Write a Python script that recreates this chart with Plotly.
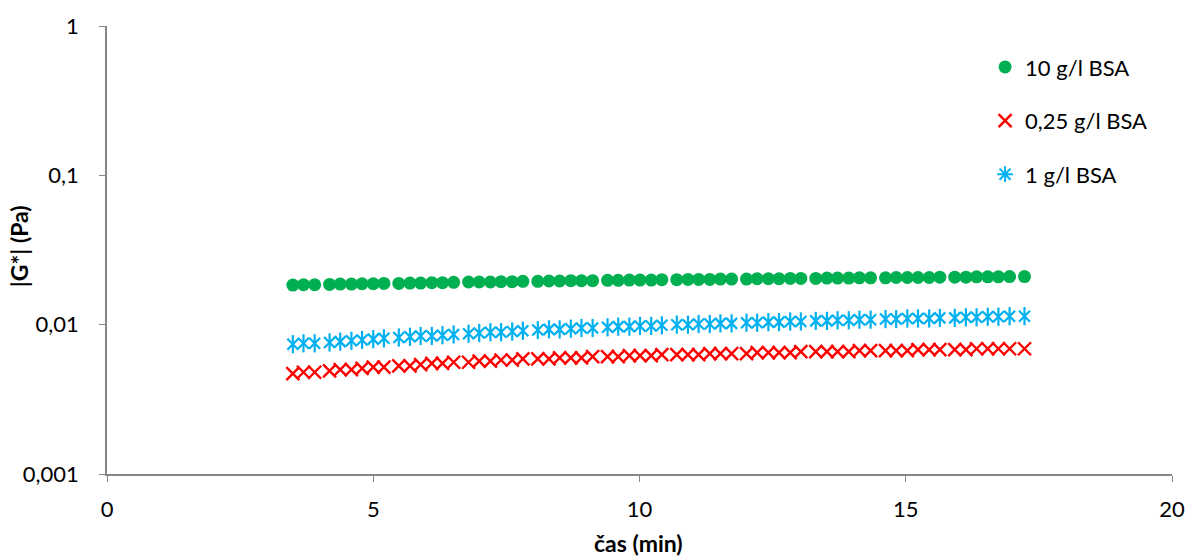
import plotly.graph_objects as go

# time (min)
cas = [3.49, 3.69, 3.90,
       4.18, 4.38, 4.59, 4.79, 5.00, 5.20,
       5.48, 5.69, 5.89, 6.10, 6.30, 6.51,
       6.79, 6.99, 7.20, 7.40, 7.61, 7.81,
       8.09, 8.30, 8.50, 8.71, 8.91, 9.12,
       9.40, 9.60, 9.81, 10.01, 10.22, 10.42,
       10.70, 10.91, 11.11, 11.32, 11.52, 11.73,
       12.01, 12.21, 12.42, 12.62, 12.83, 13.03,
       13.31, 13.52, 13.72, 13.93, 14.13, 14.34,
       14.62, 14.82, 15.03, 15.23, 15.44, 15.64,
       15.92, 16.13, 16.33, 16.54, 16.74, 16.95,
       17.23]

g_10 = [0.0184, 0.0185, 0.0185,
        0.0186, 0.0187, 0.0187, 0.0188, 0.0188, 0.0189,
        0.0189, 0.0190, 0.0190, 0.0191, 0.0191, 0.0192,
        0.0193, 0.0193, 0.0193, 0.0194, 0.0194, 0.0195,
        0.0195, 0.0196, 0.0196, 0.0197, 0.0197, 0.0197,
        0.0198, 0.0198, 0.0199, 0.0199, 0.0199, 0.0200,
        0.0200, 0.0201, 0.0201, 0.0201, 0.0202, 0.0202,
        0.0202, 0.0203, 0.0203, 0.0203, 0.0204, 0.0204,
        0.0204, 0.0205, 0.0205, 0.0205, 0.0206, 0.0206,
        0.0206, 0.0207, 0.0207, 0.0207, 0.0207, 0.0208,
        0.0208, 0.0208, 0.0209, 0.0209, 0.0209, 0.0210,
        0.0210]

g_025 = [0.0047, 0.0048, 0.0048,
         0.0049, 0.0050, 0.0050, 0.0051, 0.0052, 0.0052,
         0.0053, 0.0053, 0.0054, 0.0055, 0.0055, 0.0056,
         0.0056, 0.0057, 0.0057, 0.0058, 0.0058, 0.0059,
         0.0059, 0.0059, 0.0060, 0.0060, 0.0060, 0.0061,
         0.0061, 0.0061, 0.0062, 0.0062, 0.0062, 0.0063,
         0.0063, 0.0063, 0.0063, 0.0064, 0.0064, 0.0064,
         0.0064, 0.0065, 0.0065, 0.0065, 0.0065, 0.0066,
         0.0066, 0.0066, 0.0066, 0.0066, 0.0067, 0.0067,
         0.0067, 0.0067, 0.0067, 0.0068, 0.0068, 0.0068,
         0.0068, 0.0068, 0.0069, 0.0069, 0.0069, 0.0069,
         0.0069]

g_1 = [0.0074, 0.0075, 0.0075,
       0.0076, 0.0077, 0.0078, 0.0079, 0.0080, 0.0081,
       0.0082, 0.0083, 0.0084, 0.0084, 0.0085, 0.0086,
       0.0087, 0.0088, 0.0089, 0.0089, 0.0090, 0.0091,
       0.0092, 0.0093, 0.0093, 0.0094, 0.0095, 0.0095,
       0.0096, 0.0097, 0.0097, 0.0098, 0.0098, 0.0099,
       0.0100, 0.0100, 0.0101, 0.0101, 0.0102, 0.0102,
       0.0103, 0.0103, 0.0104, 0.0104, 0.0105, 0.0105,
       0.0106, 0.0106, 0.0107, 0.0107, 0.0108, 0.0108,
       0.0109, 0.0109, 0.0110, 0.0110, 0.0110, 0.0111,
       0.0111, 0.0112, 0.0112, 0.0113, 0.0113, 0.0114,
       0.0114]

names = ["10 g/l BSA", "0,25 g/l BSA", "1 g/l BSA"]
x_ticks = [0, 5, 10, 15, 20]
y_ticks = [0.001, 0.01, 0.1, 1]
y_ticktext = ["0,001", "0,01", "0,1", "1"]

GREEN = "#00B050"
RED = "#FF0000"
BLUE = "#00B0F0"
AX = "#868686"
FONT = "Lato"

fig = go.Figure()
fig.add_trace(go.Scatter(x=cas, y=g_10, mode="markers", name=names[0],
                         legendgroup="a",
                         marker=dict(symbol="circle", size=13, color=GREEN)))
fig.add_trace(go.Scatter(x=cas, y=g_025, mode="markers", name=names[1],
                         legendgroup="b",
                         marker=dict(symbol="x-thin-open", size=13, color=RED,
                                     line=dict(color=RED, width=2.4))))
# star marker (x + vertical bar)
fig.add_trace(go.Scatter(x=cas, y=g_1, mode="markers", name=names[2],
                         legendgroup="c", showlegend=False,
                         marker=dict(symbol="x-thin-open", size=11, color=BLUE,
                                     line=dict(color=BLUE, width=2.2))))
fig.add_trace(go.Scatter(x=cas, y=g_1, mode="markers", name=names[2],
                         legendgroup="c", showlegend=False,
                         marker=dict(symbol="line-ns-open", size=13, color=BLUE,
                                     line=dict(color=BLUE, width=2.2))))
fig.add_trace(go.Scatter(x=[None], y=[None], mode="markers", name=names[2],
                         legendgroup="c",
                         marker=dict(symbol="asterisk-open", size=13, color=BLUE,
                                     line=dict(color=BLUE, width=2))))

fig.update_layout(
    width=1197, height=559,
    margin=dict(l=107, r=17, t=23, b=85),
    paper_bgcolor="white", plot_bgcolor="white",
    font=dict(family=FONT, color="#000000"),
    showlegend=True,
    legend=dict(x=0.8245, y=0.955, xanchor="left", yanchor="top",
                font=dict(size=22, family=FONT), tracegroupgap=22,
                traceorder="grouped", itemwidth=30,
                bgcolor="rgba(0,0,0,0)"),
    xaxis=dict(range=[0, 20], tickvals=x_ticks, ticks="outside", ticklen=6,
               tickcolor=AX, showline=True, linecolor=AX, linewidth=1.5,
               showgrid=False, zeroline=False, tickfont=dict(size=22),
               ticklabelstandoff=9),
    yaxis=dict(type="log", range=[-3, 0], tickvals=y_ticks, ticktext=y_ticktext,
               ticks="outside", ticklen=6, tickcolor=AX, showline=True,
               linecolor=AX, linewidth=1.5, showgrid=False, zeroline=False,
               tickfont=dict(size=22), ticklabelstandoff=16),
    annotations=[
        dict(text="<b>čas (min)</b>", x=0.5, y=0, xref="paper", yref="paper",
             yanchor="middle", xanchor="center",
             showarrow=False, font=dict(size=23)),
        dict(text="<b>|G*| (Pa)</b>", textangle=-90, x=0, y=0.5,
             xanchor="center", yanchor="middle",
             xref="paper", yref="paper", showarrow=False, font=dict(size=23)),
    ],
)
# convert annotation pixel positions to paper coords
pw = 1197 - 107 - 17
ph = 559 - 23 - 85
fig.layout.annotations[0].y = 1 - (543 - 23) / ph
fig.layout.annotations[0].x = (642 - 107) / pw
fig.layout.annotations[1].x = (18 - 107) / pw
fig.layout.annotations[1].y = 1 - (245 - 23) / ph

fig.write_html("out.html")
